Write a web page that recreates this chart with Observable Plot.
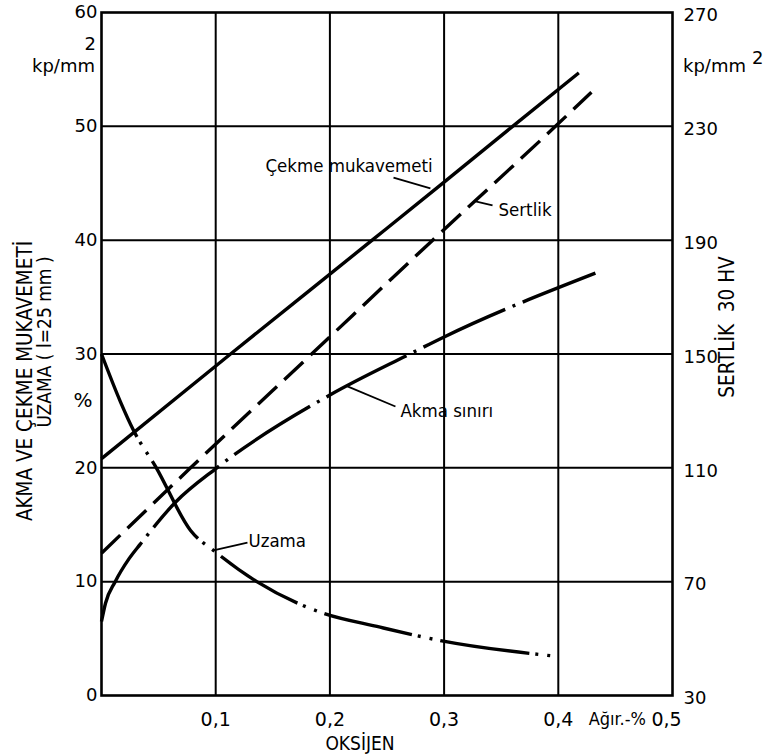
<!DOCTYPE html>
<html><head><meta charset="utf-8">
<script src="https://cdn.jsdelivr.net/npm/d3@7"></script>
<script src="https://cdn.jsdelivr.net/npm/@observablehq/plot@0.6"></script>
<style>
body{margin:0;background:#fff}
svg{font-family:"DejaVu Sans","Noto Sans",sans-serif}
</style>
</head><body><div id="chart"></div>
<script>
// ---- data ----
const xTicks = [0.1, 0.2, 0.3, 0.4];
const xTickLabels = ["0,1", "0,2", "0,3", "0,4"];
const xEndTick = [0.5];
const xEndLabel = ["0,5"];
const leftTicks = [0, 10, 20, 30, 40, 50, 60];
const rightTicks = [30, 70, 110, 150, 190, 230, 270];
const xGrid = [0.1, 0.2, 0.3, 0.4];
const yGrid = [10, 20, 30, 40, 50];

// Çekme mukavemeti (kp/mm2, left axis)
const cekmeX = [0, 0.113, 0.237, 0.3, 0.36, 0.418];
const cekmeY = [20.8, 30, 40, 45.1, 50, 54.7];
// Sertlik (HV 30, right axis)
const sertlikX = [0, 0.078, 0.184, 0.29, 0.3975, 0.429];
const sertlikHV = [80, 110, 150, 190, 230, 242];
// Akma sınırı (kp/mm2, left axis)
const akmaX = [0, 0.0035, 0.012, 0.024, 0.034, 0.065, 0.101, 0.2, 0.27, 0.3, 0.4325];
const akmaY = [6.5, 8.1, 10, 12, 13.3, 17.0, 20, 26.4, 30, 31.5, 37.1];
// Uzama (%, left axis)
const uzamaX = [0, 0.0166, 0.028, 0.048, 0.078, 0.1, 0.136, 0.192, 0.244, 0.298, 0.393];
const uzamaY = [30, 25.8, 23.3, 20, 14.5, 12.6, 10, 7.3, 6.0, 4.8, 3.5];

// curve labels and leader lines (data units)
const labelNames = ["Çekme mukavemeti", "Sertlik", "Akma sınırı", "Uzama"];
const labelX = [0.1436, 0.3476, 0.2618, 0.1287];
const labelY = [46.5, 42.6, 25.0, 13.6];
const leaderX1 = [0.2557, 0.3275, 0.2154, 0.098];
const leaderY1 = [45.5, 43.4, 27.15, 12.74];
const leaderX2 = [0.288, 0.3424, 0.2574, 0.1278];
const leaderY2 = [44.54, 43.05, 25.39, 13.44];

// ---- build ----
const hvToLeft = hv => (hv - 30) / 4;
const leftToHv = v => Math.round(30 + 4 * v);
const zip = (xs, ys) => xs.map((x, i) => ({x, y: ys[i]}));
const cekme = zip(cekmeX, cekmeY);
const sertlik = zip(sertlikX, sertlikHV.map(hvToLeft));
const akma = zip(akmaX, akmaY);
const uzama = zip(uzamaX, uzamaY);
const labels = labelNames.map((t, i) => ({t, x: labelX[i], y: labelY[i]}));
const leaders = labelNames.map((t, i) => ({x1: leaderX1[i], y1: leaderY1[i], x2: leaderX2[i], y2: leaderY2[i]}));

const cond = "DejaVu Sans Condensed, DejaVu Sans, sans-serif";
const lineStyle = {x: "x", y: "y", stroke: "#000", strokeWidth: 3.4, curve: "monotone-x", strokeLinecap: "butt"};

const chart = Plot.plot({
  width: 770, height: 754,
  marginLeft: 101, marginRight: 98, marginTop: 12, marginBottom: 59,
  x: {domain: [0, 0.5]},
  y: {domain: [0, 60]},
  style: {background: "#fff", color: "#000", fontFamily: "DejaVu Sans, sans-serif"},
  marks: [
    Plot.gridX(xGrid, {stroke: "#000", strokeOpacity: 1, strokeWidth: 2}),
    Plot.gridY(yGrid, {stroke: "#000", strokeOpacity: 1, strokeWidth: 2}),
    Plot.frame({stroke: "#000", strokeWidth: 2.6}),
    Plot.axisY(leftTicks, {anchor: "left", tickSize: 0, tickPadding: 4, fontSize: 18, label: null}),
    Plot.axisY(rightTicks.map(hvToLeft), {anchor: "right", tickSize: 0, tickPadding: 11, fontSize: 18, dy: 3, tickFormat: leftToHv, label: null}),
    Plot.axisX(xTicks, {anchor: "bottom", tickSize: 0, tickPadding: 12, fontSize: 19, dy: 5, tickFormat: (d) => xTickLabels[xTicks.indexOf(d)], label: null}),
    Plot.axisX(xEndTick, {anchor: "bottom", tickSize: 0, tickPadding: 12, fontSize: 19, dy: 5, dx: -6, tickFormat: (d) => xEndLabel[xEndTick.indexOf(d)], label: null}),
    Plot.line(cekme, {...lineStyle}),
    Plot.line(sertlik, {...lineStyle, strokeDasharray: "26,10"}),
    Plot.line(akma, {...lineStyle, strokeDasharray: "90,8,3,8"}),
    Plot.line(uzama, {...lineStyle, strokeDasharray: "90,6,3,9,3,8"}),
    Plot.link(leaders, {x1: "x1", y1: "y1", x2: "x2", y2: "y2", stroke: "#000", strokeWidth: 1.8}),
    Plot.text(labels, {x: "x", y: "y", text: "t", textAnchor: "start", fontSize: 18.5, fill: "#000", fontFamily: cond})
  ]
});
document.getElementById("chart").appendChild(chart);

// axis titles and units
const svg = d3.select(chart);
const add = (x, y, txt, size, opts = {}) => {
  const t = svg.append("text").attr("x", x).attr("y", y).attr("font-size", size)
    .attr("fill", "#000").attr("text-anchor", opts.anchor || "start").text(txt);
  if (opts.rotate) t.attr("transform", `rotate(-90 ${x} ${y})`).attr("dominant-baseline", "middle");
  if (opts.cond) t.attr("font-family", cond);
  return t;
};
add(95, 72, "kp/mm", 18, {anchor: "end"});
add(96, 50, "2", 18, {anchor: "end"});
add(683, 72, "kp/mm", 18);
add(752, 64, "2", 18);
add(26, 381, "AKMA VE ÇEKME MUKAVEMETİ", 20.5, {anchor: "middle", rotate: true, cond: true});
add(45, 342, "UZAMA ( l=25 mm )", 19, {anchor: "middle", rotate: true, cond: true});
add(83, 407, "%", 20, {anchor: "middle"});
add(728, 327, "SERTLİK  30 HV", 20.5, {anchor: "middle", rotate: true, cond: true});
add(646, 725, "Ağır.-%", 18, {anchor: "end", cond: true});
add(360, 750, "OKSİJEN", 19, {anchor: "middle", cond: true});
</script>
</body></html>
